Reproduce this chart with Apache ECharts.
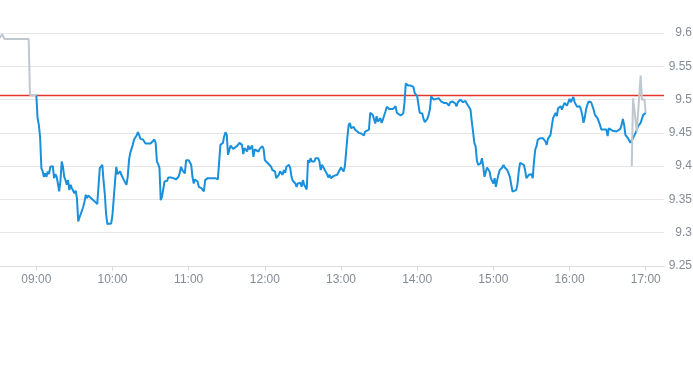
<!DOCTYPE html>
<html><head><meta charset="utf-8">
<script src="https://cdn.jsdelivr.net/npm/echarts@6/dist/echarts.min.js"></script>
<style>html,body{margin:0;padding:0;background:#fff}#c{width:693px;height:365px}</style>
</head><body><div id="c"></div>
<script>
// Axis window and ticks
const xRangeStart = "08:31:24";
const xRangeEnd = "17:14:24";
const xTickLabels = ["09:00","10:00","11:00","12:00","13:00","14:00","15:00","16:00","17:00"];
const yMin = 9.25, yMax = 9.6, yStep = 0.05;
const prevClose = 9.506;

// Pre-market (grey)
const preMarket = [["08:31",9.592],["08:33",9.598],["08:34",9.600],["08:35",9.591],["08:54",9.591],["08:55",9.507],["09:00",9.507]];
// Late trades (grey)
const lateTrades = [["16:49",9.400],["16:50",9.502],["16:53",9.452],["16:56",9.536],["16:57",9.500],["16:59",9.500],["17:00",9.480]];

// Regular session (blue)
const session = [
["09:00",9.507],["09:01",9.472],["09:02",9.462],["09:03",9.443],["09:04",9.397],["09:05",9.392],["09:06",9.384],["09:07",9.389],["09:08",9.384],["09:09",9.392],
["09:10",9.388],["09:11",9.399],["09:13",9.400],["09:14",9.382],["09:15",9.388],["09:16",9.384],["09:17",9.374],["09:18",9.362],["09:19",9.377],["09:20",9.407],
["09:21",9.399],["09:22",9.384],["09:23",9.379],["09:24",9.372],["09:25",9.379],["09:26",9.364],["09:27",9.372],["09:28",9.367],["09:29",9.369],["09:30",9.359],
["09:31",9.363],["09:32",9.352],["09:33",9.317],["09:34",9.323],["09:35",9.328],["09:36",9.329],["09:37",9.339],["09:38",9.347],["09:39",9.357],["09:40",9.352],
["09:41",9.356],["09:42",9.357],["09:43",9.352],["09:44",9.349],["09:46",9.347],["09:48",9.343],["09:49",9.343],["09:50",9.397],["09:52",9.402],["09:53",9.377],
["09:54",9.357],["09:55",9.327],["09:56",9.313],["09:57",9.313],["09:59",9.314],
["10:00",9.327],["10:01",9.352],["10:02",9.377],["10:03",9.399],["10:04",9.388],["10:06",9.392],["10:07",9.387],["10:08",9.389],["10:09",9.379],["10:11",9.372],
["10:12",9.384],["10:13",9.409],["10:14",9.420],["10:16",9.432],["10:17",9.440],["10:18",9.437],["10:19",9.446],["10:20",9.451],["10:21",9.447],["10:22",9.441],
["10:24",9.440],["10:26",9.434],["10:27",9.432],["10:30",9.434],["10:31",9.435],["10:33",9.440],["10:34",9.435],["10:35",9.407],["10:36",9.403],["10:37",9.397],
["10:38",9.349],["10:39",9.354],["10:41",9.377],["10:42",9.379],["10:43",9.378],["10:44",9.383],["10:46",9.383],["10:48",9.382],["10:50",9.380],["10:51",9.377],
["10:52",9.384],["10:53",9.390],["10:54",9.399],["10:55",9.394],["10:57",9.389],["10:58",9.409],["10:59",9.412],
["11:00",9.409],["11:01",9.412],["11:02",9.402],["11:03",9.384],["11:04",9.374],["11:05",9.380],["11:07",9.377],["11:08",9.369],["11:10",9.367],["11:11",9.364],
["11:12",9.362],["11:13",9.379],["11:15",9.382],["11:18",9.382],["11:19",9.380],["11:21",9.382],["11:23",9.380],["11:24",9.382],["11:25",9.432],["11:27",9.435],
["11:28",9.445],["11:29",9.451],["11:30",9.447],["11:31",9.417],["11:33",9.431],["11:34",9.429],["11:35",9.426],["11:36",9.423],["11:38",9.430],["11:39",9.432],
["11:40",9.435],["11:42",9.432],["11:43",9.418],["11:44",9.427],["11:46",9.422],["11:47",9.431],["11:48",9.425],["11:50",9.431],["11:51",9.414],["11:52",9.425],
["11:53",9.422],["11:55",9.422],["11:56",9.426],["11:58",9.430],["11:59",9.426],
["12:00",9.409],["12:02",9.405],["12:03",9.407],["12:05",9.399],["12:06",9.394],["12:08",9.392],["12:09",9.382],["12:10",9.379],["12:11",9.387],["12:12",9.392],
["12:14",9.387],["12:15",9.394],["12:16",9.390],["12:17",9.399],["12:19",9.402],["12:20",9.397],["12:21",9.384],["12:22",9.378],["12:24",9.374],["12:25",9.369],
["12:26",9.374],["12:27",9.372],["12:28",9.375],["12:29",9.369],["12:30",9.379],["12:31",9.372],["12:32",9.373],["12:33",9.365],["12:34",9.409],["12:35",9.405],
["12:36",9.412],["12:37",9.407],["12:39",9.407],["12:40",9.412],["12:42",9.412],["12:43",9.407],["12:44",9.394],["12:45",9.402],["12:46",9.403],["12:47",9.395],
["12:48",9.394],["12:49",9.388],["12:50",9.383],["12:51",9.387],["12:52",9.382],["12:54",9.385],["12:55",9.387],["12:57",9.387],["12:58",9.389],
["13:00",9.398],["13:01",9.395],["13:02",9.392],["13:03",9.399],["13:05",9.443],["13:06",9.461],["13:07",9.465],["13:08",9.457],["13:10",9.459],["13:11",9.455],
["13:12",9.452],["13:14",9.450],["13:15",9.451],["13:16",9.449],["13:18",9.446],["13:19",9.452],["13:20",9.451],["13:22",9.455],["13:23",9.480],["13:24",9.481],
["13:25",9.477],["13:27",9.464],["13:28",9.475],["13:29",9.467],["13:31",9.472],["13:32",9.465],["13:33",9.470],["13:35",9.482],["13:36",9.489],["13:38",9.486],
["13:39",9.489],["13:41",9.486],["13:43",9.490],["13:44",9.480],["13:45",9.482],["13:47",9.476],["13:48",9.475],["13:49",9.479],["13:50",9.495],["13:51",9.524],
["13:53",9.521],["13:55",9.521],["13:57",9.519],["13:58",9.510],
["14:00",9.505],["14:01",9.492],["14:02",9.480],["14:04",9.479],["14:05",9.471],["14:06",9.466],["14:08",9.471],["14:09",9.477],["14:10",9.485],["14:11",9.505],
["14:13",9.500],["14:14",9.499],["14:15",9.501],["14:17",9.502],["14:18",9.500],["14:19",9.497],["14:21",9.495],["14:22",9.492],["14:23",9.495],["14:25",9.491],
["14:26",9.496],["14:27",9.494],["14:28",9.497],["14:30",9.494],["14:31",9.490],["14:32",9.496],["14:34",9.500],["14:35",9.501],["14:36",9.496],["14:38",9.498],
["14:39",9.494],["14:40",9.497],["14:42",9.485],["14:43",9.467],["14:44",9.452],["14:45",9.435],["14:46",9.430],["14:47",9.409],["14:48",9.402],["14:50",9.404],
["14:51",9.412],["14:52",9.400],["14:53",9.384],["14:54",9.387],["14:55",9.398],["14:57",9.392],["14:58",9.382],["14:59",9.379],
["15:00",9.374],["15:01",9.382],["15:02",9.369],["15:03",9.379],["15:04",9.387],["15:05",9.394],["15:07",9.398],["15:08",9.402],["15:09",9.398],["15:11",9.394],
["15:12",9.395],["15:13",9.384],["15:14",9.387],["15:15",9.362],["15:16",9.362],["15:18",9.364],["15:19",9.373],["15:20",9.392],["15:21",9.405],["15:22",9.407],
["15:24",9.402],["15:25",9.394],["15:26",9.382],["15:28",9.387],["15:29",9.384],["15:30",9.388],["15:31",9.382],["15:32",9.407],["15:33",9.425],["15:34",9.430],
["15:35",9.440],["15:37",9.442],["15:38",9.440],["15:39",9.442],["15:41",9.437],["15:42",9.432],["15:43",9.441],["15:45",9.447],["15:46",9.447],["15:47",9.472],
["15:48",9.475],["15:49",9.480],["15:50",9.475],["15:51",9.487],["15:53",9.490],["15:54",9.485],["15:55",9.490],["15:56",9.495],["15:58",9.491],["15:59",9.496],
["16:00",9.501],["16:01",9.496],["16:03",9.504],["16:04",9.496],["16:05",9.493],["16:06",9.489],["16:07",9.492],["16:08",9.490],["16:09",9.485],["16:10",9.477],
["16:11",9.465],["16:12",9.473],["16:13",9.485],["16:14",9.492],["16:15",9.497],["16:17",9.496],["16:18",9.493],["16:19",9.485],["16:20",9.477],["16:21",9.476],
["16:22",9.472],["16:23",9.470],["16:24",9.462],["16:25",9.455],["16:27",9.455],["16:28",9.453],["16:29",9.455],["16:30",9.445],["16:31",9.457],["16:32",9.455],
["16:34",9.453],["16:37",9.452],["16:38",9.451],["16:40",9.456],["16:41",9.462],["16:42",9.471],["16:43",9.462],["16:44",9.447],["16:45",9.445],["16:46",9.442],
["16:48",9.435],["16:49",9.433],["16:50",9.442],["16:52",9.450],["16:53",9.453],["16:54",9.460],["16:56",9.465],["16:57",9.471],["16:58",9.477],["17:00",9.480]
];

function toMin(s){const p=s.split(':').map(Number);return p[0]*60+p[1]+(p[2]||0)/60;}
function fmt(m){const h=Math.floor(m/60),mm=Math.round(m%60);return String(h).padStart(2,'0')+':'+String(mm).padStart(2,'0');}
const pts = a => a.map(d => [toMin(d[0]), d[1]]);
const tickVals = xTickLabels.map(toMin);
const RED = '#e2362b';

const chart = echarts.init(document.getElementById('c'), null, {renderer:'canvas'});
chart.setOption({
  animation:false,
  backgroundColor:'#fff',
  grid:{left:0,right:29,top:33,bottom:99,containLabel:false,outerBoundsMode:'none'},
  xAxis:{
    type:'value', min:toMin(xRangeStart), max:toMin(xRangeEnd),
    axisLine:{onZero:false,lineStyle:{color:'#dcdcdc'}},
    axisTick:{show:true,length:5,lineStyle:{color:'#dcdcdc'},customValues:tickVals},
    axisLabel:{customValues:tickVals,formatter:v=>fmt(v),color:'#858c96',fontSize:12,margin:8,fontFamily:'sans-serif'},
    splitLine:{show:false}
  },
  yAxis:{
    type:'value', position:'right', min:yMin, max:yMax, interval:yStep, scale:true,
    axisLine:{show:false}, axisTick:{show:false},
    axisLabel:{color:'#858c96',fontSize:12,align:'right',margin:28,fontFamily:'sans-serif'},
    splitLine:{lineStyle:{color:'#e6e6e6',width:1}}
  },
  series:[
    {type:'line',name:'prevClose',silent:true,
     data:[[toMin(xRangeStart),prevClose],[toMin(xRangeEnd),prevClose]],
     showSymbol:false,symbol:'none',lineStyle:{color:RED,width:1.5},itemStyle:{color:RED},z:2},
    {type:'line',data:pts(session),showSymbol:false,symbol:'none',
     lineStyle:{color:'#1890dc',width:2},itemStyle:{color:'#1890dc'},z:3},
    {type:'line',data:pts(preMarket),showSymbol:false,symbol:'none',
     lineStyle:{color:'#bfc7cf',width:2},z:4},
    {type:'line',data:pts(lateTrades),showSymbol:false,symbol:'none',
     lineStyle:{color:'#bfc7cf',width:2},z:4}
  ]
});
</script></body></html>
